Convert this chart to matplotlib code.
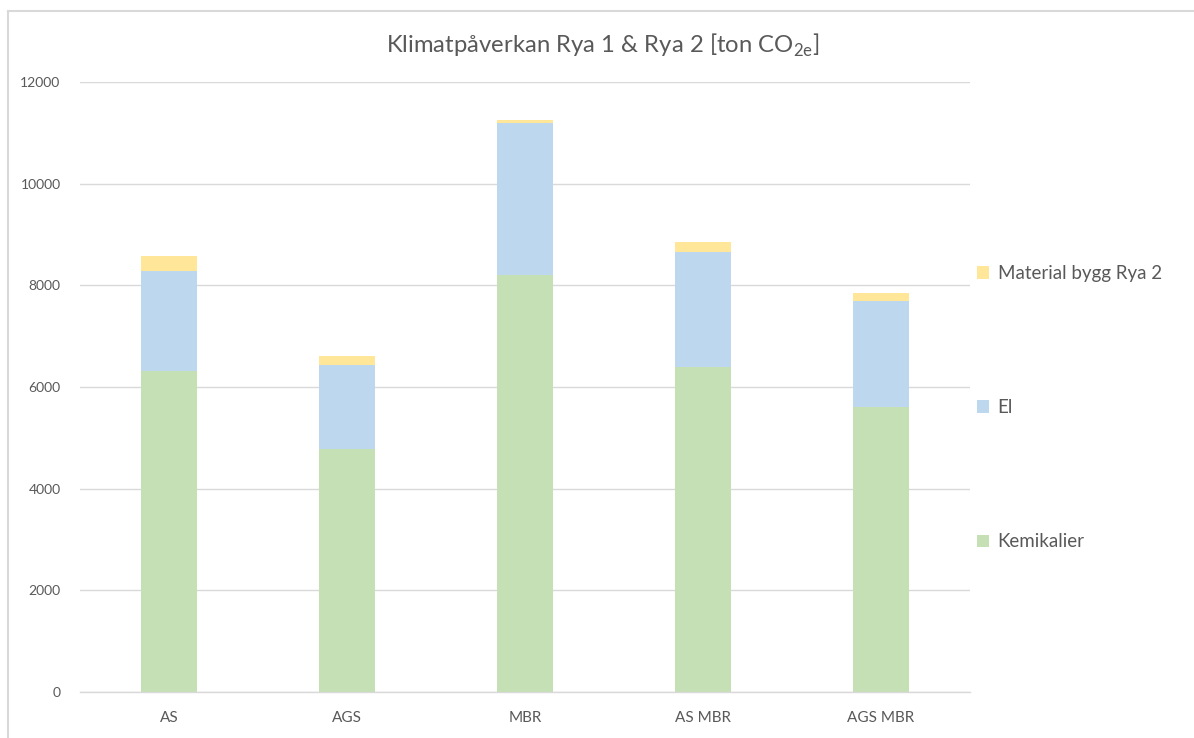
import matplotlib.pyplot as plt
from matplotlib.lines import Line2D
import numpy as np

plt.rcParams['font.family'] = ['Lato', 'DejaVu Sans']

# Climate impact per process alternative [ton CO2e]
categories = ['AS', 'AGS', 'MBR', 'AS MBR', 'AGS MBR']
kemikalier = [6320, 4780, 8200, 6390, 5600]
el = [1970, 1650, 2990, 2260, 2090]
material = [295, 178, 55, 200, 150]

TEXT = '#595959'
GRID = '#d9d9d9'
C_KEM = '#c5e0b4'
C_EL = '#bdd7ee'
C_MAT = '#ffe699'

fig = plt.figure(figsize=(11.94, 7.38), dpi=100)
ax = fig.add_axes([0.067, 0.0623, 0.7454, 0.8266])

x = np.arange(len(categories))
w = 0.31
kem = np.array(kemikalier)
e = np.array(el)
b1 = ax.bar(x, kem, w, color=C_KEM, label='Kemikalier', zorder=2)
b2 = ax.bar(x, e, w, bottom=kem, color=C_EL, label='El', zorder=2)
b3 = ax.bar(x, material, w, bottom=kem + e, color=C_MAT, label='Material bygg Rya 2', zorder=2)

ax.set_xlim(-0.5, len(categories) - 0.5)
ax.set_ylim(0, 12000)
ax.set_yticks(np.arange(0, 12001, 2000))
ax.set_xticks(x)
ax.set_xticklabels(categories, fontsize=11, color=TEXT)
ax.tick_params(axis='y', length=0, pad=14, labelsize=10, labelcolor=TEXT)
ax.tick_params(axis='x', length=0, pad=14)
ax.yaxis.grid(True, color=GRID, linewidth=1, zorder=0)
ax.set_axisbelow(True)
for s in ['top', 'right', 'left']:
    ax.spines[s].set_visible(False)
ax.spines['bottom'].set_color(GRID)
ax.spines['bottom'].set_linewidth(1)

fig.text(0.505, 0.938, 'Klimatpåverkan Rya 1 & Rya 2 [ton CO$_{\\mathregular{2e}}$]',
         fontsize=17.2, color=TEXT, ha='center', va='center')

# Legend spread vertically on the right, top entry first
handles = [b3, b2, b1]
ax.legend(handles=handles, labels=[h.get_label() for h in handles],
          loc='upper left', bbox_to_anchor=(0.812, 0.651),
          bbox_transform=fig.transFigure, frameon=False,
          fontsize=13.5, labelcolor=TEXT, handlelength=0.65, handleheight=0.65,
          handletextpad=0.45, labelspacing=6.25, borderaxespad=0)

# Chart frame (left and top edges)
fig.add_artist(Line2D([0.0063, 0.0063], [0, 0.9851], transform=fig.transFigure,
                      color=GRID, linewidth=1.5))
fig.add_artist(Line2D([0.0063, 1.0], [0.9851, 0.9851], transform=fig.transFigure,
                      color=GRID, linewidth=1.5))

fig.savefig('out.png', dpi=100)
